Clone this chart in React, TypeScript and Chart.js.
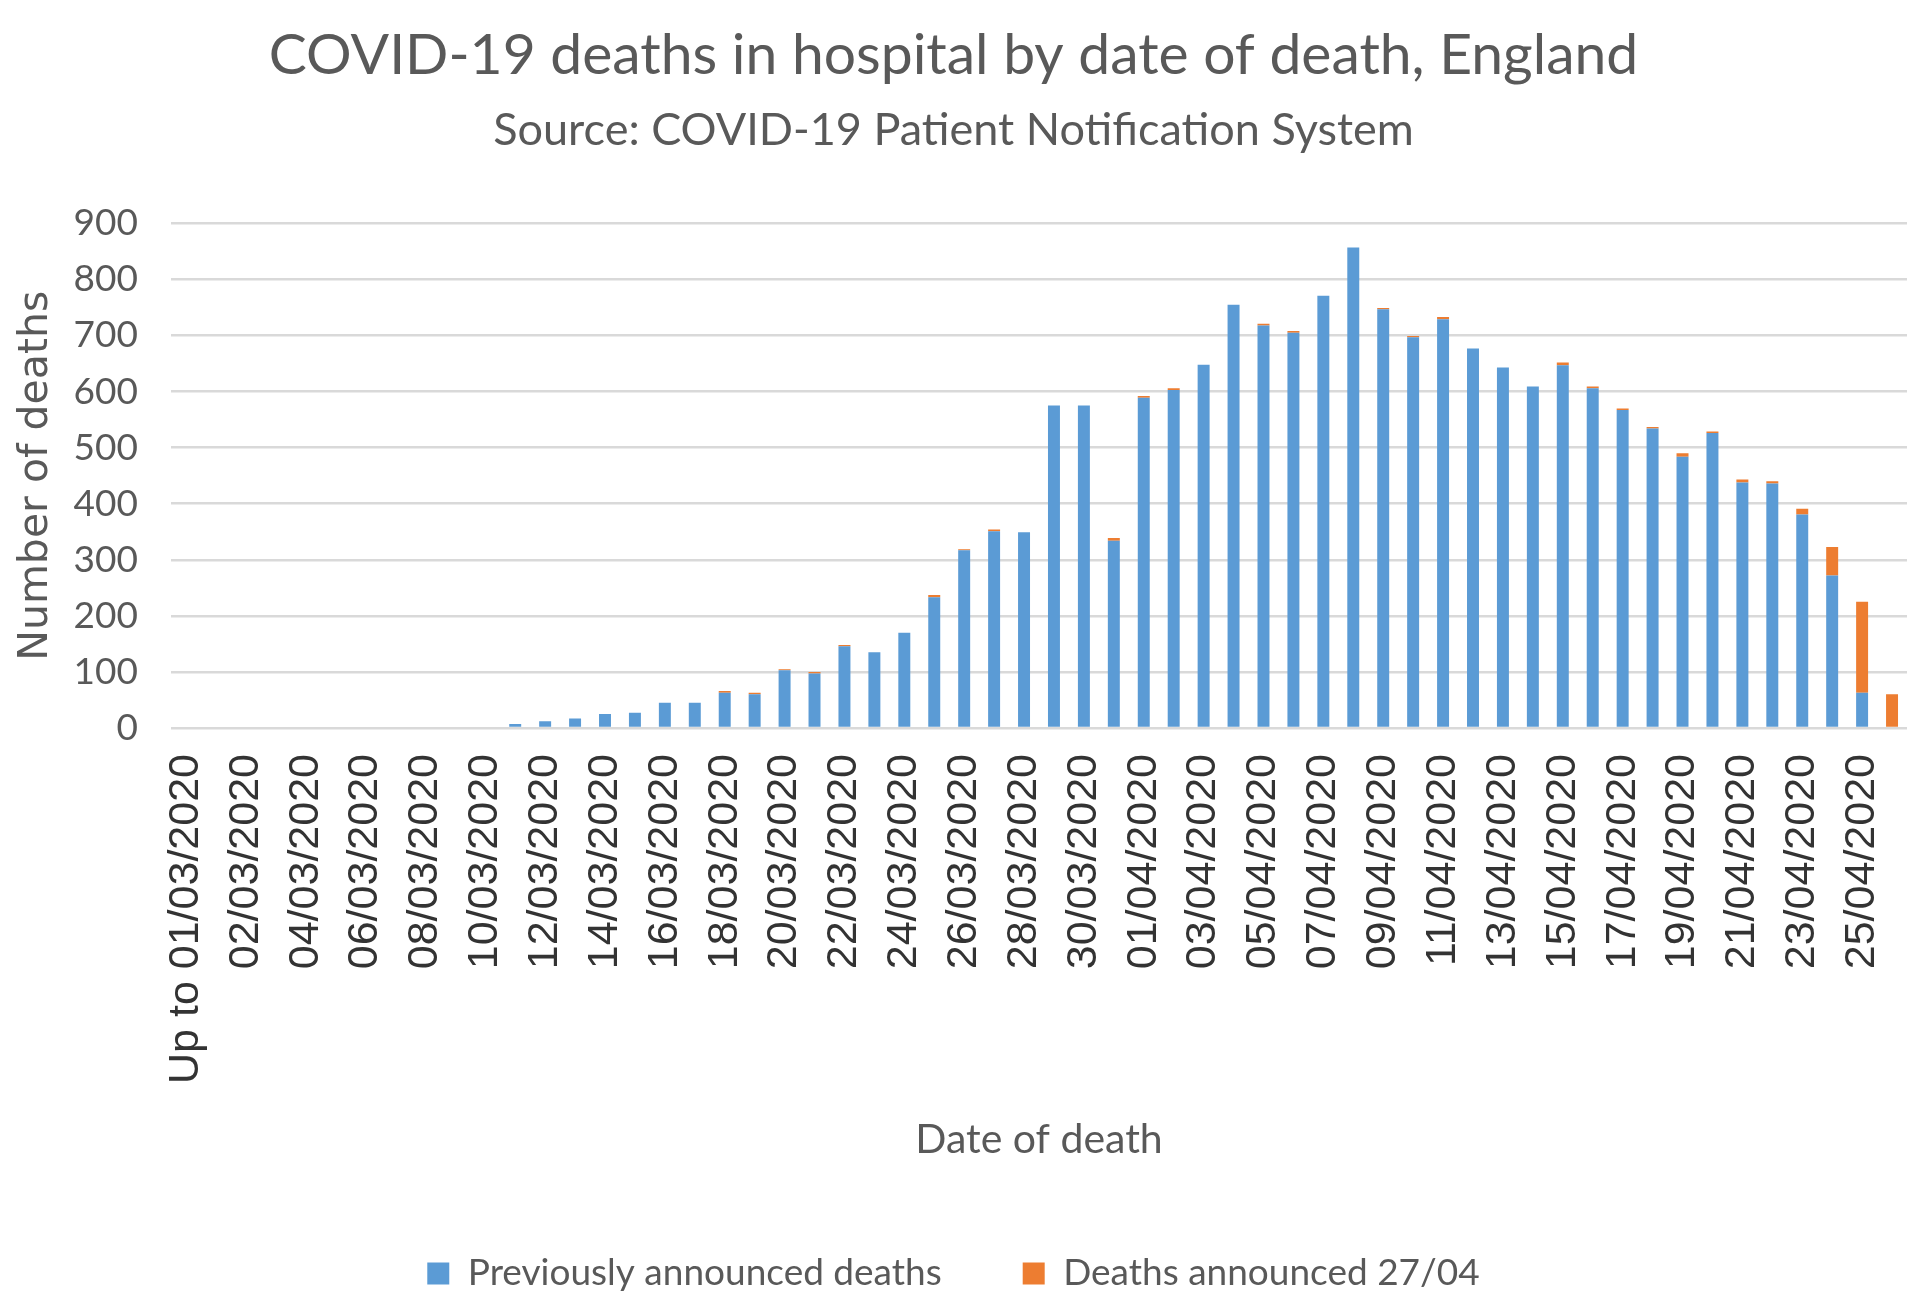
import React, { useEffect, useRef } from "react";
import { Chart, registerables } from "chart.js";

Chart.register(...registerables);

const categories: string[] = [
  "Up to 01/03/2020",
  "01/03/2020", "02/03/2020", "03/03/2020", "04/03/2020", "05/03/2020", "06/03/2020", "07/03/2020",
  "08/03/2020", "09/03/2020", "10/03/2020", "11/03/2020", "12/03/2020", "13/03/2020", "14/03/2020",
  "15/03/2020", "16/03/2020", "17/03/2020", "18/03/2020", "19/03/2020", "20/03/2020", "21/03/2020",
  "22/03/2020", "23/03/2020", "24/03/2020", "25/03/2020", "26/03/2020", "27/03/2020", "28/03/2020",
  "29/03/2020", "30/03/2020", "31/03/2020",
  "01/04/2020", "02/04/2020", "03/04/2020", "04/04/2020", "05/04/2020", "06/04/2020", "07/04/2020",
  "08/04/2020", "09/04/2020", "10/04/2020", "11/04/2020", "12/04/2020", "13/04/2020", "14/04/2020",
  "15/04/2020", "16/04/2020", "17/04/2020", "18/04/2020", "19/04/2020", "20/04/2020", "21/04/2020",
  "22/04/2020", "23/04/2020", "24/04/2020", "25/04/2020", "26/04/2020",
];

const previouslyAnnounced: number[] = [
  0,
  0, 0, 0, 0, 0, 0, 0, 0, 0, 0, 7, 12, 17, 25,
  27, 45, 45, 63, 60, 103, 97, 146, 135, 170, 233, 317, 351, 349,
  575, 575, 334,
  589, 603, 648, 755, 718, 705, 771, 857, 747, 697, 729, 677, 643,
  609, 647, 606, 567, 534, 484, 526, 438, 436, 381, 272, 63, 0,
];

const announced2704: number[] = [
  0,
  0, 0, 0, 0, 0, 0, 0, 0, 0, 0, 0, 0, 0, 0,
  0, 0, 0, 3, 3, 2, 3, 2, 0, 0, 4, 2, 3, 0,
  0, 0, 5,
  3, 3, 0, 0, 3, 3, 0, 0, 2, 2, 4, 0, 0,
  0, 5, 3, 3, 3, 6, 3, 5, 4, 10, 51, 162, 60,
];

const yTicks = { min: 0, max: 900, step: 100 };

const titleText = "COVID-19 deaths in hospital by date of death, England";
const subtitleText = "Source: COVID-19 Patient Notification System";
const yAxisTitle = "Number of deaths";
const xAxisTitle = "Date of death";
const seriesNames = ["Previously announced deaths", "Deaths announced 27/04"];

const BLUE = "#5B9BD5";
const ORANGE = "#ED7D31";
const GREY_TEXT = "#595959";
const GRID = "#D9D9D9";
const SANS = "Lato, 'Open Sans', sans-serif";

export default function App() {
  const canvasRef = useRef<HTMLCanvasElement | null>(null);

  useEffect(() => {
    const canvas = canvasRef.current;
    if (!canvas) return;
    const chart = new Chart(canvas, {
      type: "bar",
      data: {
        labels: categories,
        datasets: [
          {
            label: seriesNames[0],
            data: previouslyAnnounced,
            backgroundColor: BLUE,
            borderWidth: 0,
            barPercentage: 0.8,
            categoryPercentage: 0.5,
          },
          {
            label: seriesNames[1],
            data: announced2704,
            backgroundColor: ORANGE,
            borderWidth: 0,
            barPercentage: 0.8,
            categoryPercentage: 0.5,
          },
        ],
      },
      options: {
        responsive: false,
        animation: false,
        layout: { padding: { left: 0, right: 13, top: 0, bottom: 7 } },
        plugins: {
          title: {
            display: true,
            text: titleText,
            color: GREY_TEXT,
            font: { family: SANS, size: 57, weight: "normal" },
            padding: { top: 21, bottom: 0 },
          },
          subtitle: {
            display: true,
            text: subtitleText,
            color: GREY_TEXT,
            font: { family: SANS, size: 45, weight: "normal" },
            padding: { top: 14, bottom: 66 },
          },
          legend: {
            display: true,
            position: "bottom",
            labels: {
              color: GREY_TEXT,
              font: { family: SANS, size: 37 },
              boxWidth: 22,
              boxHeight: 22,
              padding: 81,
            },
          },
          tooltip: { enabled: false },
        },
        scales: {
          x: {
            stacked: true,
            grid: { display: false, drawTicks: false },
            border: { display: false },
            ticks: {
              autoSkip: false,
              minRotation: 90,
              maxRotation: 90,
              padding: 26,
              color: "#333333",
              font: { family: "'Liberation Sans', Arial, sans-serif", size: 43 },
              callback: function (_v: any, index: number) {
                return index % 2 === 0 ? categories[index] : "";
              },
            },
            title: {
              display: true,
              text: xAxisTitle,
              color: GREY_TEXT,
              font: { family: SANS, size: 41 },
              padding: { top: 0, bottom: 10 },
            },
            afterFit: (scale: any) => {
              scale.height = 446;
              scale.paddingLeft = 0;
              scale.paddingRight = 0;
            },
          },
          y: {
            stacked: true,
            min: yTicks.min,
            max: yTicks.max,
            grid: { color: GRID, lineWidth: 2.5, drawTicks: false },
            border: { display: false },
            ticks: {
              stepSize: yTicks.step,
              padding: 33,
              color: GREY_TEXT,
              font: { family: SANS, size: 37 },
            },
            title: {
              display: true,
              text: yAxisTitle,
              color: GREY_TEXT,
              font: { family: "'DejaVu Sans', Verdana, sans-serif", size: 41 },
              padding: { top: 12, bottom: 0 },
            },
            afterFit: (scale: any) => {
              scale.width = 171;
            },
          },
        },
      },
    });
    return () => chart.destroy();
  }, []);

  return (
    <div style={{ position: "absolute", left: 0, top: 0, width: 1920, height: 1309, background: "#ffffff" }}>
      <canvas ref={canvasRef} width={1920} height={1309} style={{ width: 1920, height: 1309, display: "block" }} />
    </div>
  );
}
